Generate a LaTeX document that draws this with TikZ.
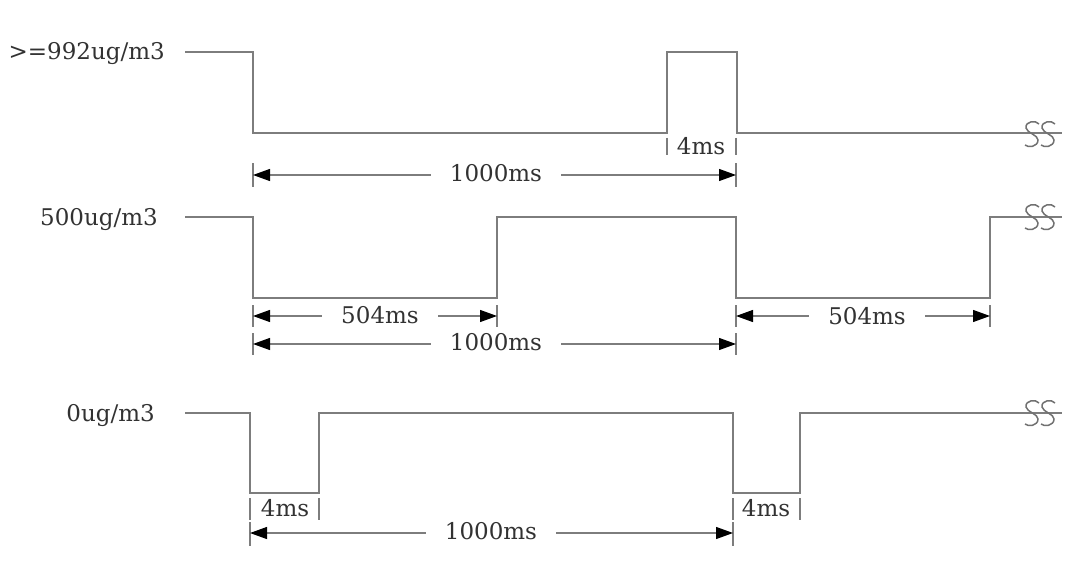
\documentclass[tikz,border=0pt]{standalone}
\usepackage{fontspec}
\setmainfont{DejaVu Serif}
\usetikzlibrary{arrows.meta}
\definecolor{wavegray}{RGB}{125,125,125}
\definecolor{txtgray}{RGB}{50,50,50}
\begin{document}
\begin{tikzpicture}[x=1pt,y=-1pt,
  wave/.style={draw=wavegray,line width=1.4pt,line join=miter},
  tickline/.style={draw=wavegray,line width=1.1pt},
  dimline/.style={draw=wavegray,line width=1.2pt,
    {Triangle[length=17pt,width=12pt,color=black]}-{Triangle[length=17pt,width=12pt,color=black]}},
  dimtext/.style={fill=white,inner xsep=19pt,inner ysep=1pt,text=txtgray,
    font=\fontsize{23}{25}\selectfont},
  smalltext/.style={inner sep=1pt,text=txtgray,font=\fontsize{23}{25}\selectfont},
  lvl/.style={anchor=base east,inner sep=0pt,text=txtgray,font=\fontsize{23}{25}\selectfont},
  brk/.style={draw=wavegray!90!black,line width=1.5pt}
]
\useasboundingbox (0,0) rectangle (1081,583);
\fill[white] (0,0) rectangle (1081,583);

% ---------------- level labels
\node[lvl] (l1) at (165,60) {>=992ug/m3};
\node[lvl] (l2) at (158,225) {500ug/m3};
\node[lvl] (l3) at (155,421) {0ug/m3};

% ---------------- row 1 waveform
\draw[wave] (185,52) -- (253,52) -- (253,133) -- (667,133) -- (667,52) -- (737,52) -- (737,133) -- (1062,133);
% 4ms marker
\coordinate (a1t) at (667,138); \coordinate (a1b) at (667,155);
\coordinate (a2t) at (736,138); \coordinate (a2b) at (736,155);
\draw[tickline] (a1t) -- (a1b);
\draw[tickline] (a2t) -- (a2b);
\node[smalltext] (t4a) at (701,146) {4ms};
% 1000ms
\coordinate (b1t) at (253,163); \coordinate (b1b) at (253,187); \coordinate (b1m) at (253,175);
\coordinate (b2t) at (736,163); \coordinate (b2b) at (736,187); \coordinate (b2m) at (736,175);
\draw[tickline] (b1t) -- (b1b);
\draw[tickline] (b2t) -- (b2b);
\draw[dimline] (b1m) -- (b2m);
\node[dimtext] (t1000a) at (496,173) {1000ms};

% ---------------- row 2 waveform
\draw[wave] (185,217) -- (253,217) -- (253,298) -- (497,298) -- (497,217) -- (736,217) -- (736,298) -- (990,298) -- (990,217) -- (1062,217);
% 504ms left
\coordinate (c1t) at (253,305); \coordinate (c1b) at (253,327); \coordinate (c1m) at (253,316);
\coordinate (c2t) at (497,305); \coordinate (c2b) at (497,327); \coordinate (c2m) at (497,316);
\draw[tickline] (c1t) -- (c1b);
\draw[tickline] (c2t) -- (c2b);
\draw[dimline] (c1m) -- (c2m);
\node[dimtext] (t504a) at (380,315) {504ms};
% 504ms right
\coordinate (d1t) at (736,305); \coordinate (d1b) at (736,327); \coordinate (d1m) at (736,316);
\coordinate (d2t) at (990,305); \coordinate (d2b) at (990,327); \coordinate (d2m) at (990,316);
\draw[tickline] (d1t) -- (d1b);
\draw[tickline] (d2t) -- (d2b);
\draw[dimline] (d1m) -- (d2m);
\node[dimtext] (t504b) at (867,316) {504ms};
% 1000ms
\coordinate (e1t) at (253,333); \coordinate (e1b) at (253,355); \coordinate (e1m) at (253,344);
\coordinate (e2t) at (736,333); \coordinate (e2b) at (736,355); \coordinate (e2m) at (736,344);
\draw[tickline] (e1t) -- (e1b);
\draw[tickline] (e2t) -- (e2b);
\draw[dimline] (e1m) -- (e2m);
\node[dimtext] (t1000b) at (496,342) {1000ms};

% ---------------- row 3 waveform
\draw[wave] (185,413) -- (250,413) -- (250,493) -- (319,493) -- (319,413) -- (733,413) -- (733,493) -- (800,493) -- (800,413) -- (1062,413);
% 4ms markers
\coordinate (f1t) at (250,498); \coordinate (f1b) at (250,520);
\coordinate (f2t) at (319,498); \coordinate (f2b) at (319,520);
\draw[tickline] (f1t) -- (f1b);
\draw[tickline] (f2t) -- (f2b);
\node[smalltext] (t4b) at (285,508) {4ms};
\coordinate (g1t) at (733,498); \coordinate (g1b) at (733,520);
\coordinate (g2t) at (800,498); \coordinate (g2b) at (800,520);
\draw[tickline] (g1t) -- (g1b);
\draw[tickline] (g2t) -- (g2b);
\node[smalltext] (t4c) at (766,508) {4ms};
% 1000ms
\coordinate (h1t) at (250,522); \coordinate (h1b) at (250,546); \coordinate (h1m) at (250,533);
\coordinate (h2t) at (733,522); \coordinate (h2b) at (733,546); \coordinate (h2m) at (733,533);
\draw[tickline] (h1t) -- (h1b);
\draw[tickline] (h2t) -- (h2b);
\draw[dimline] (h1m) -- (h2m);
\node[dimtext] (t1000c) at (491,531) {1000ms};

% ---------------- break symbols (SS)
\foreach \yy in {134,217,413}{
  \foreach \xx in {1032,1048}{
    \draw[brk] (\xx+7,\yy-10) .. controls (\xx+4,\yy-14) and (\xx-7,\yy-13) .. (\xx-6,\yy-6)
               .. controls (\xx-5,\yy-1) and (\xx+6,\yy+1) .. (\xx+6,\yy+6)
               .. controls (\xx+6,\yy+13) and (\xx-4,\yy+14) .. (\xx-7,\yy+11);
  }
}
\end{tikzpicture}
\end{document}
